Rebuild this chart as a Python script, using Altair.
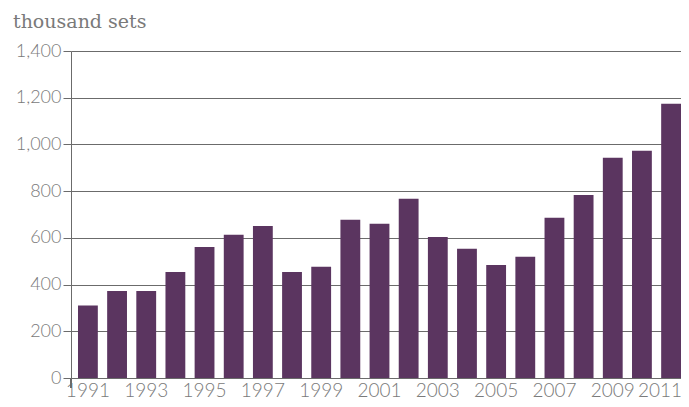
import altair as alt
import pandas as pd

years = [str(y) for y in range(1991, 2012)]
values = [310, 373, 373, 454, 561, 613, 651, 454, 476, 677, 660, 767,
          604, 553, 484, 519, 686, 784, 943, 973, 1174]
label_years = [str(y) for y in range(1991, 2012, 2)]

df = pd.DataFrame({"year": years, "sets": values})

W, H = 610, 327
GRAY = "#6b6b6b"
LABEL = "#7a7a7a"

bars = alt.Chart(df).mark_bar(color="#5b3560").encode(
    x=alt.X("year:N", sort=years,
            scale=alt.Scale(paddingInner=0.32, paddingOuter=0.12, align=1),
            axis=alt.Axis(title=None, values=label_years, labelAngle=0, ticks=False,
                          domain=False, labelFont="Lato", labelFontSize=19,
                          labelFontWeight=300,
                          labelOffset=alt.ExprRef("datum.value == '2011' ? -11 : 0"),
                          labelColor=LABEL, labelPadding=3, grid=False)),
    y=alt.Y("sets:Q", scale=alt.Scale(domain=[0, 1400]),
            axis=alt.Axis(title=None, values=[0, 200, 400, 600, 800, 1000, 1200, 1400],
                          format=",d", labelFont="Lato", labelFontSize=18,
                          labelFontWeight=300,
                          labelColor=LABEL, tickSize=8, tickColor=GRAY,
                          domainColor=GRAY, gridColor=GRAY, gridOpacity=1,
                          grid=True, labelPadding=2)),
)

ext = alt.Chart(df).mark_rule(color=GRAY).encode(
    x=alt.value(0), y=alt.value(H), y2=alt.value(H + 10)
)

chart = alt.layer(bars, ext).properties(
    width=W, height=H,
    autosize=alt.AutoSizeParams(type="none"),
    padding={"left": 63, "top": 43, "right": 0, "bottom": 21},
    title=alt.TitleParams("thousand sets", anchor="start", font="DejaVu Serif",
                          fontSize=19, fontWeight="normal", color=LABEL,
                          frame="group", dx=-58, offset=10),
).configure_view(stroke=None)

chart.save("out.html", embed_options={"renderer": "svg", "actions": False})
